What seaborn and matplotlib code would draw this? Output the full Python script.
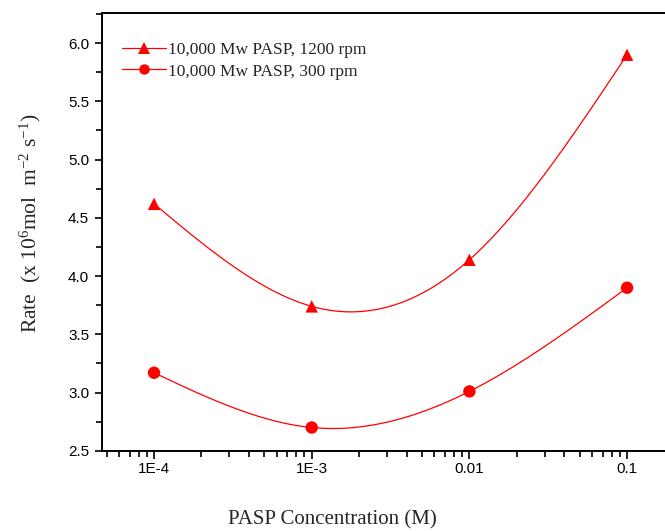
import numpy as np
import pandas as pd
import matplotlib
matplotlib.use("Agg")
import matplotlib.pyplot as plt
import seaborn as sns
from matplotlib.lines import Line2D
from matplotlib.ticker import LogLocator, FixedLocator, FixedFormatter, MultipleLocator

sns.set_style("ticks")
plt.rcParams['font.family'] = ['Liberation Sans', 'DejaVu Sans']
plt.rcParams['mathtext.fontset'] = 'custom'
plt.rcParams['mathtext.rm'] = 'Liberation Serif'
plt.rcParams['mathtext.it'] = 'Liberation Serif:italic'

# 数据
conc = [1e-4, 1e-3, 1e-2, 1e-1]
rate_1200 = [4.62, 3.74, 4.14, 5.90]
rate_300 = [3.17, 2.70, 3.01, 3.90]
label_1200 = '10,000 Mw PASP, 1200 rpm'
label_300 = '10,000 Mw PASP, 300 rpm'
xtick_vals = [1e-4, 1e-3, 1e-2, 1e-1]
xtick_labels = ['1E-4', '1E-3', '0.01', '0.1']

RED = '#FF0000'


def natural_spline(x, y, n=200):
    """log10(x) 上的自然三次样条，用于平滑连线"""
    u = np.log10(np.asarray(x, dtype=float))
    y = np.asarray(y, dtype=float)
    k = len(u)
    h = np.diff(u)
    A = np.zeros((k, k))
    b = np.zeros(k)
    A[0, 0] = 1.0
    A[-1, -1] = 1.0
    for i in range(1, k - 1):
        A[i, i - 1] = h[i - 1]
        A[i, i] = 2 * (h[i - 1] + h[i])
        A[i, i + 1] = h[i]
        b[i] = 6 * ((y[i + 1] - y[i]) / h[i] - (y[i] - y[i - 1]) / h[i - 1])
    M = np.linalg.solve(A, b)
    uu = np.linspace(u[0], u[-1], n)
    idx = np.clip(np.searchsorted(u, uu) - 1, 0, k - 2)
    u0, u1 = u[idx], u[idx + 1]
    hh = u1 - u0
    t0 = u1 - uu
    t1 = uu - u0
    yy = (M[idx] * t0 ** 3 / (6 * hh) + M[idx + 1] * t1 ** 3 / (6 * hh)
          + (y[idx] / hh - M[idx] * hh / 6) * t0
          + (y[idx + 1] / hh - M[idx + 1] * hh / 6) * t1)
    return 10 ** uu, yy


df = pd.DataFrame({'conc': conc + conc,
                   'rate': rate_1200 + rate_300,
                   'series': [label_1200] * 4 + [label_300] * 4})

fig = plt.figure(figsize=(6.65, 5.31), dpi=100)
ax = fig.add_axes([0.153, 0.151, 0.847, 0.824])

for rates in [rate_1200, rate_300]:
    xs, ys = natural_spline(conc, rates)
    ax.plot(xs, ys, color=RED, lw=0.9, zorder=2)

sns.scatterplot(data=df, x='conc', y='rate', style='series',
                markers={label_1200: '^', label_300: 'o'},
                color=RED, s=80, edgecolor='none', legend=False, ax=ax, zorder=3)

ax.set_xscale('log')
ax.set_xlim(4.66e-5, 0.174)
ax.set_ylim(2.5, 6.256)

ax.xaxis.set_major_locator(FixedLocator(xtick_vals))
ax.xaxis.set_major_formatter(FixedFormatter(xtick_labels))
ax.xaxis.set_minor_locator(LogLocator(base=10, subs=np.arange(2, 10), numticks=20))
ax.yaxis.set_major_locator(MultipleLocator(0.5))
ax.yaxis.set_minor_locator(MultipleLocator(0.25))
ax.yaxis.set_major_formatter(plt.FuncFormatter(lambda v, p: f'{v:.1f}'))

ax.tick_params(axis='both', which='major', direction='out', length=5, width=1.2,
               labelsize=11, color='black', labelcolor='black')
ax.tick_params(axis='both', which='minor', direction='out', length=4, width=1.2, color='black')
ax.tick_params(axis='x', which='major', length=6, pad=2)
ax.tick_params(axis='y', which='major', pad=4)

for side in ['left', 'bottom', 'top']:
    ax.spines[side].set_color('black')
    ax.spines[side].set_linewidth(1.4)
ax.spines['right'].set_visible(False)

ax.set_xlabel('PASP Concentration (M)', fontsize=15, family='Liberation Serif')
ax.set_ylabel(r'Rate  (x 10$^{6}$mol  m$^{-2}$ s$^{-1}$)', fontsize=15.5,
              family='Liberation Serif')
ax.xaxis.set_label_coords(0.41, -0.135)
ax.yaxis.set_label_coords(-0.105, 0.52)

handles = [Line2D([], [], color=RED, lw=0.9, marker='^', markersize=9, markeredgewidth=0),
           Line2D([], [], color=RED, lw=0.9, marker='o', markersize=7.5, markeredgewidth=0)]
ax.legend(handles, [label_1200, label_300], loc='upper left',
          bbox_to_anchor=(0.009, 0.97), frameon=False, handlelength=2.5,
          handletextpad=0.15, labelspacing=0.3,
          prop={'family': 'Liberation Serif', 'size': 12.5})

fig.savefig('out.png', dpi=100)
